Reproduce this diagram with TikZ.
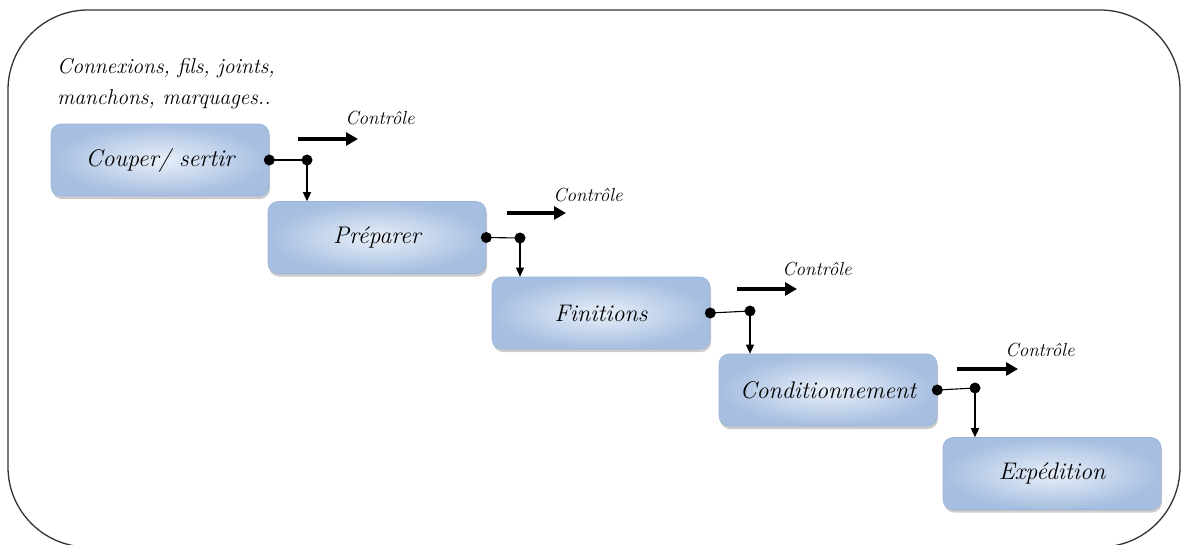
\documentclass[tikz,border=0pt]{standalone}
\usetikzlibrary{arrows.meta,shadows,calc}
\definecolor{boxout}{HTML}{A6BEE0}
\definecolor{boxin}{HTML}{E8EFF9}
\definecolor{boxline}{HTML}{9AB3D9}
\tikzset{
  stepbox/.style={rectangle, rounded corners=10pt, minimum width=218pt, minimum height=72pt,
    inner color=boxin, outer color=boxout, draw=boxline, line width=0.6pt,
    drop shadow={shadow xshift=1pt, shadow yshift=-3pt, fill=black!45, opacity=0.45},
    font=\itshape\fontsize{24}{28}\selectfont},
  jdot/.style={fill=black},
  link/.style={line width=1.1pt},
  down/.style={line width=1.4pt, -{Triangle[length=9pt,width=8pt]}},
  ctrl/.style={line width=4pt, -{Triangle[length=12pt,width=13pt]}},
  ctrllabel/.style={font=\itshape\fontsize{19}{22}\selectfont, inner sep=0pt},
}
\begin{document}
\begin{tikzpicture}[x=1pt,y=-1pt]
\useasboundingbox (0,0) rectangle (1183,544);
\begin{scope}
\clip (0,0) rectangle (1183,544);
\draw[line width=1.3pt, black!80, rounded corners=80pt] (8,10) rectangle (1180,547);
\end{scope}

\node[anchor=north west, align=left, inner sep=0pt, font=\itshape\fontsize{21.5}{31}\selectfont] (note) at (57,58)
  {Connexions, fils, joints,\\manchons, marquages..};

\node[stepbox] (b1) at (160,160) {Couper/ sertir};
\node[stepbox] (b2) at (377,237.5) {Préparer};
\node[stepbox] (b3) at (601,313) {Finitions};
\node[stepbox] (b4) at (828,390) {Conditionnement};
\node[stepbox] (b5) at (1052,473.5) {Expédition};

% junctions
\coordinate (j1) at (307,160);
\coordinate (j2) at (520,238);
\coordinate (j3) at (750,311);
\coordinate (j4) at (975,388);

\draw[link] (b1.east) -- (j1);
\draw[link] (b2.east) -- (j2);
\draw[link] (b3.east) -- (j3);
\draw[link] (b4.east) -- (j4);

\draw[down] (j1) -- (j1 |- b2.north);
\draw[down] (j2) -- (j2 |- b3.north);
\draw[down] (j3) -- (j3 |- b4.north);
\draw[down] (j4) -- (j4 |- b5.north);

\foreach \p in {b1.east,j1,b2.east,j2,b3.east,j3,b4.east,j4}
  \fill[jdot] (\p) circle (5.5pt);

% control arrows
\coordinate (c1s) at (298,139); \coordinate (c1e) at (358,139);
\coordinate (c2s) at (507,213); \coordinate (c2e) at (566,213);
\coordinate (c3s) at (737,289); \coordinate (c3e) at (797,289);
\coordinate (c4s) at (957,369); \coordinate (c4e) at (1018,369);
\draw[ctrl] (c1s) -- (c1e);
\draw[ctrl] (c2s) -- (c2e);
\draw[ctrl] (c3s) -- (c3e);
\draw[ctrl] (c4s) -- (c4e);
\node[ctrllabel] (l1) at (380,118) {Contrôle};
\node[ctrllabel] (l2) at (588,195) {Contrôle};
\node[ctrllabel] (l3) at (817,269) {Contrôle};
\node[ctrllabel] (l4) at (1040,350) {Contrôle};
\end{tikzpicture}
\end{document}
